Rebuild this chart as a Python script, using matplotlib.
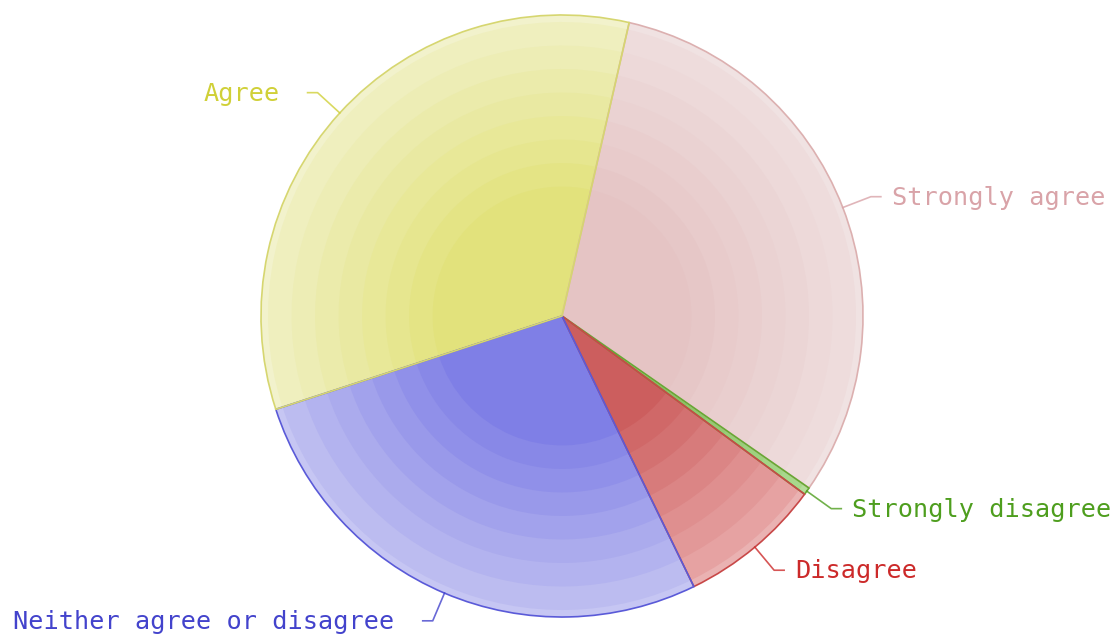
import numpy as np
import matplotlib

matplotlib.use("Agg")
import matplotlib.pyplot as plt
from matplotlib.colors import to_rgb

# survey answers (share of responses, %)
labels = ["Strongly agree", "Strongly disagree", "Disagree",
          "Neither agree or disagree", "Agree"]
values = [31.1, 0.4, 7.7, 27.2, 33.6]

center_colors = ["#e5c4c4", "#86c060", "#cc5e5e", "#7f7fe6", "#e2e27c"]
outer_colors = ["#eedcdc", "#a8d88c", "#e6a2a2", "#bcbcf0", "#efefbe"]
rim_colors = ["#f0e2e2", "#b4dd9a", "#eab2b2", "#c6c6f3", "#f2f2cc"]
edge_colors = ["#dcb0b0", "#66aa33", "#c84848", "#5a5ad8", "#d6d670"]
text_colors = ["#d9a3a8", "#4e9e1e", "#cc2a2a", "#4343cc", "#d0d038"]

W, H = 1119, 635
cx, cy = 562, 319
R = 301
start = 77.1

fig = plt.figure(figsize=(W / 100, H / 100), dpi=100)
ax = fig.add_axes([0, 0, 1, 1])


def blend(c1, c2, t):
    a, b = np.array(to_rgb(c1)), np.array(to_rgb(c2))
    return tuple(a + (b - a) * t)


# outer rim
ax.pie(values, colors=rim_colors, radius=R, center=(cx, cy),
       startangle=start, counterclock=False,
       wedgeprops=dict(linewidth=0))

# concentric shading bands, light at the edge, saturated in the middle
n_bands = 8
radii = np.linspace(R - 7, R * 0.43, n_bands)
for i, r in enumerate(radii):
    t = i / (n_bands - 1)
    cols = [blend(o, c, t) for o, c in zip(outer_colors, center_colors)]
    ax.pie(values, colors=cols, radius=r, center=(cx, cy),
           startangle=start, counterclock=False,
           wedgeprops=dict(linewidth=0))

# slice outlines on top
wedges, _ = ax.pie(values, colors=["none"] * len(values), radius=R,
                   center=(cx, cy), startangle=start, counterclock=False,
                   wedgeprops=dict(linewidth=1.2, fill=False))
for w, ec in zip(wedges, edge_colors):
    w.set_edgecolor(ec)

# labels with bent leader lines
for w, lab, tc in zip(wedges, labels, text_colors):
    mid = np.deg2rad((w.theta1 + w.theta2) / 2)
    dx, dy = np.cos(mid), np.sin(mid)
    p0 = (cx + R * dx, cy + R * dy)
    p1 = (cx + 1.1 * R * dx, cy + 1.1 * R * dy)
    side = 1 if dx >= 0 else -1
    p2 = (p1[0] + side * 10, p1[1])
    ax.plot([p0[0], p1[0], p2[0]], [p0[1], p1[1], p2[1]],
            color=tc, lw=1.2, alpha=0.8)
    gap = 11 if side > 0 else 28
    ax.text(p2[0] + side * gap, p2[1] - 1, lab, color=tc,
            family="DejaVu Sans Mono", fontsize=18.2,
            ha="left" if side > 0 else "right", va="center")

ax.set_xlim(0, W)
ax.set_ylim(0, H)
ax.set_aspect("equal")
ax.axis("off")

fig.savefig("out.png", dpi=100)
